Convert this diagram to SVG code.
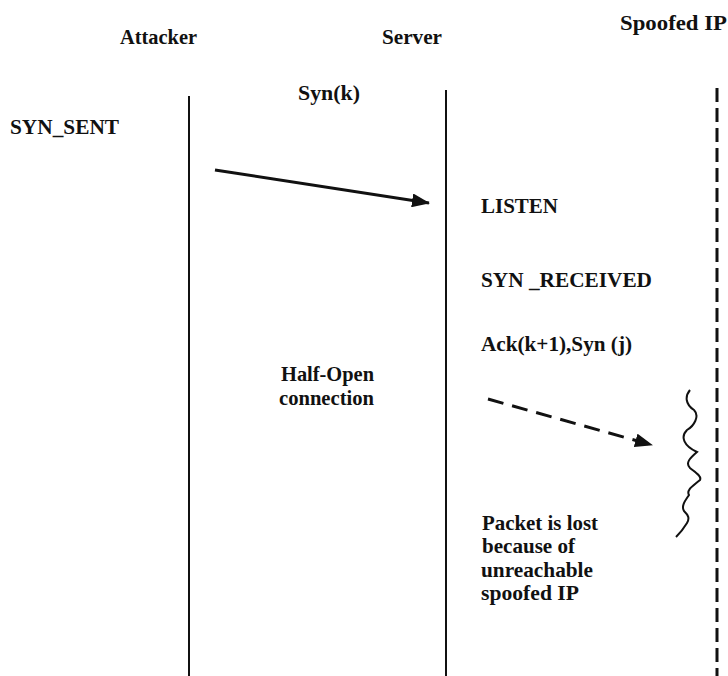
<svg xmlns="http://www.w3.org/2000/svg" width="728" height="676" viewBox="0 0 728 676">
<style>
text{font-family:"Liberation Serif","DejaVu Serif",serif;font-weight:bold;font-size:21px;fill:#111}
.life{stroke:#111;stroke-width:2;fill:none}
</style>
<defs>
<marker id="ah2" markerWidth="18" markerHeight="14" refX="17" refY="7" orient="auto" markerUnits="userSpaceOnUse" viewBox="0 0 18 14">
<path d="M0,0 L18,7 L0,14 z" fill="#111"/>
</marker>
</defs>
<rect width="728" height="676" fill="#fff"/>
<g id="attacker">
<text x="120" y="44" textLength="77" lengthAdjust="spacingAndGlyphs">Attacker</text>
<line class="life" x1="189" y1="96" x2="189" y2="676"/>
<text x="10" y="134" textLength="109" lengthAdjust="spacingAndGlyphs">SYN_SENT</text>
</g>
<g id="server">
<text x="382" y="44" textLength="60" lengthAdjust="spacingAndGlyphs">Server</text>
<line class="life" x1="446" y1="90" x2="446" y2="676"/>
<text x="481" y="213" textLength="77" lengthAdjust="spacingAndGlyphs">LISTEN</text>
<text x="481" y="287" textLength="171" lengthAdjust="spacingAndGlyphs">SYN _RECEIVED</text>
<text x="481" y="351" textLength="151" lengthAdjust="spacingAndGlyphs">Ack(k+1),Syn (j)</text>
<text x="482" y="530" textLength="116" lengthAdjust="spacingAndGlyphs">Packet is lost</text>
<text x="482" y="553" textLength="93" lengthAdjust="spacingAndGlyphs">because of</text>
<text x="481" y="577" textLength="112" lengthAdjust="spacingAndGlyphs">unreachable</text>
<text x="481" y="600" textLength="98" lengthAdjust="spacingAndGlyphs">spoofed IP</text>
</g>
<g id="spoofed">
<text x="620" y="30" textLength="107" lengthAdjust="spacingAndGlyphs">Spoofed IP</text>
<line x1="717" y1="88" x2="717" y2="676" stroke="#111" stroke-width="3" stroke-dasharray="14,6"/>
</g>
<g id="halfopen">
<text x="281" y="381" textLength="93" lengthAdjust="spacingAndGlyphs">Half-Open</text>
<text x="279" y="405" textLength="95" lengthAdjust="spacingAndGlyphs">connection</text>
</g>
<g id="syn">
<text x="298" y="100" textLength="62" lengthAdjust="spacingAndGlyphs">Syn(k)</text>
</g>
<g id="connectors">
<line x1="215" y1="170" x2="429" y2="203" stroke="#111" stroke-width="3" marker-end="url(#ah2)"/>
<line x1="488" y1="399" x2="652" y2="445" stroke="#111" stroke-width="3" stroke-dasharray="16,9" marker-end="url(#ah2)"/>
<path d="M690,390 C685,396 685,404 694,410 C700,416 694,426 687,430 C680,437 684,446 697,452 C690,458 685,463 690,468 C695,472 702,476 700,480 C693,486 686,490 689,495 C685,501 681,506 684,511 C688,515 690,518 687,523 C684,528 680,533 676,537" fill="none" stroke="#111" stroke-width="2"/>
</g>
</svg>
